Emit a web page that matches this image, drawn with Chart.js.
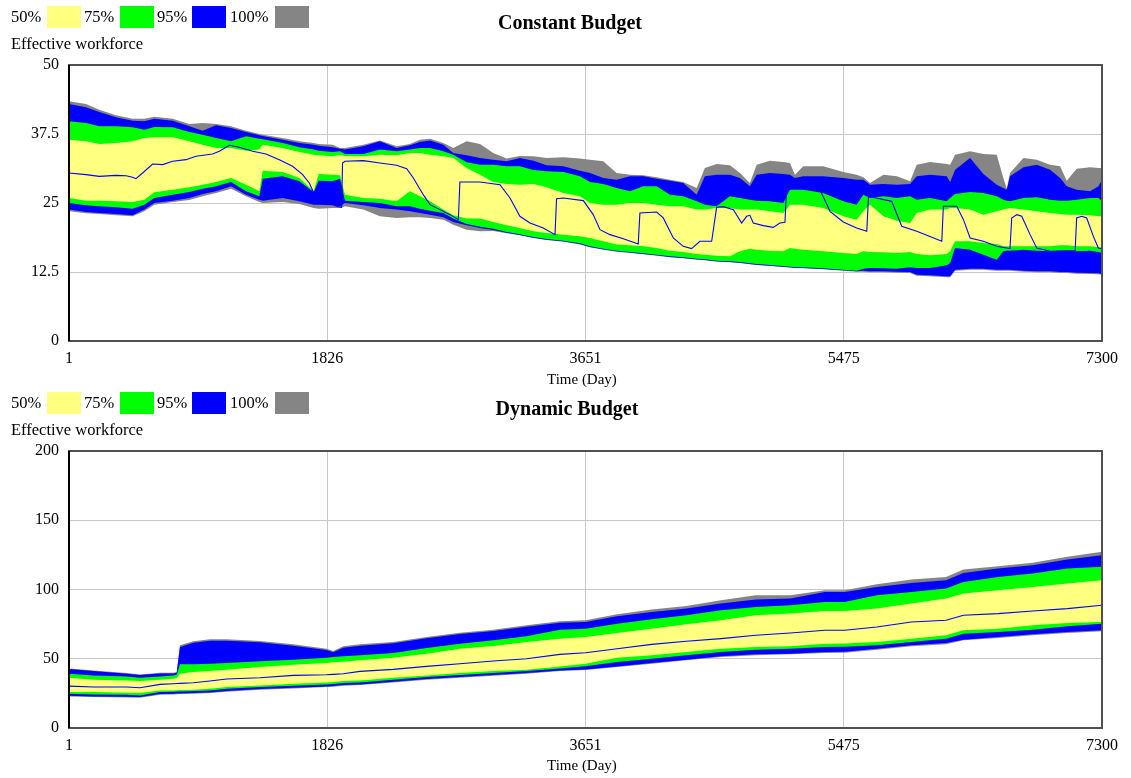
<!DOCTYPE html>
<html><head><meta charset="utf-8">
<script src="https://cdn.jsdelivr.net/npm/chart.js@4.4.1/dist/chart.umd.min.js"></script>
<style>
html,body{margin:0;padding:0;background:#fff;}
body{width:1131px;height:778px;position:relative;overflow:hidden;font-family:'Liberation Serif','Times New Roman',serif;color:#000;}
canvas{position:absolute;left:0;}
.lg{position:absolute;font-size:16.5px;line-height:20px;white-space:nowrap;}
.box{position:absolute;width:34px;height:22px;}
.title{position:absolute;font-weight:bold;font-size:20px;line-height:22px;text-align:center;width:300px;white-space:nowrap;}
.ytitle{position:absolute;font-size:16.5px;line-height:20px;white-space:nowrap;}
.xtitle{position:absolute;font-size:15px;line-height:18px;white-space:nowrap;}
</style></head><body>
<canvas id="c1" width="1131" height="389" style="top:0px"></canvas>
<canvas id="c2" width="1131" height="390" style="top:386px"></canvas>
<script>
// ---------- labels ----------
const legendLabels = ['50%','75%','95%','100%'];
const yAxisTitle = 'Effective workforce';
const xAxisTitle = 'Time (Day)';
const topTitle = 'Constant Budget';
const botTitle = 'Dynamic Budget';
const xTickValues = [1, 1826, 3651, 5475, 7300];

// ---------- Constant Budget (top) ----------
const topDays = [1,121,215,333,451,533,604,734,851,945,1040,1146,1252,1346,1370,1511,1629,1730,1765,1864,1916,1951,2081,2198,2316,2410,2481,2552,2646,2716,2811,2905,2999,3093,3187,3282,3376,3494,3611,3682,3776,3870,3965,4059,4153,4247,4341,4436,4494,4577,4671,4742,4812,4860,4954,5048,5095,5130,5189,5330,5472,5566,5614,5661,5756,5850,5944,5991,6085,6203,6227,6262,6368,6462,6556,6603,6627,6650,6745,6839,6933,7004,7051,7121,7216,7275,7300];
const topGrayHi = [43.42,42.94,41.91,40.89,40.28,40.28,40.64,40.28,39.32,39.50,39.32,38.89,38.11,37.50,37.38,36.78,36.18,35.87,35.69,35.57,34.97,34.97,35.57,36.30,35.27,35.69,36.48,36.66,35.87,34.97,36.18,35.69,34.06,33.04,33.52,33.46,33.16,33.28,33.04,32.85,32.55,30.44,30.14,30.02,29.65,29.23,28.81,27.72,31.34,32.07,31.83,30.44,28.63,31.95,32.67,32.43,32.25,30.14,31.65,31.65,30.62,30.14,29.65,28.63,30.14,29.83,28.93,31.95,32.43,32.07,31.95,33.76,34.36,33.88,33.76,29.53,27.60,30.44,33.16,32.85,31.95,31.65,29.05,31.22,31.46,31.34,31.34];
const topBlueHi = [42.94,42.34,41.49,40.52,39.92,39.80,40.28,39.92,38.89,38.11,39.07,38.59,37.87,37.26,37.14,36.48,35.87,35.57,35.39,35.09,34.85,34.67,35.27,36.18,34.97,35.45,36.05,36.30,35.57,34.06,33.64,33.16,32.85,32.55,33.16,32.67,31.83,31.65,30.86,30.44,29.53,29.23,29.83,29.83,29.41,29.05,28.63,26.51,29.83,30.14,30.14,29.53,28.02,30.14,30.44,30.26,30.14,29.53,29.83,29.83,29.53,29.23,29.23,28.32,28.45,28.32,28.45,29.83,30.14,29.83,28.81,31.04,33.16,30.26,28.32,27.72,27.42,29.83,31.46,31.95,31.04,29.53,28.02,27.42,27.12,28.02,29.23];
const topGreenHi = [39.80,39.50,38.89,38.89,38.71,38.29,38.77,38.71,37.87,37.38,36.78,36.18,37.08,36.66,36.54,35.87,35.09,34.67,34.48,34.24,34.36,33.88,33.88,34.67,34.36,34.67,34.97,34.97,34.36,33.76,32.37,31.95,31.95,31.65,31.65,30.98,30.74,30.62,29.83,28.81,28.45,27.72,27.12,28.02,28.02,26.51,26.21,25.30,24.70,24.40,26.21,25.91,25.61,25.43,25.30,25.00,27.42,27.42,27.42,26.81,25.30,24.70,26.51,25.91,26.21,25.91,26.21,25.61,25.91,25.30,25.91,26.63,26.99,26.81,26.21,25.61,25.43,25.30,25.91,26.03,25.61,25.43,25.43,25.61,25.91,25.91,25.30];
const topYellowHi = [36.48,36.18,35.69,35.87,36.18,36.78,36.90,36.90,36.18,35.57,34.97,34.97,34.48,34.67,35.57,34.97,34.24,33.76,33.64,33.46,33.76,33.46,33.46,33.76,33.64,34.06,34.06,33.76,33.46,33.16,31.34,30.14,28.81,28.45,28.32,28.45,27.84,26.81,26.21,25.00,24.70,24.70,25.00,25.00,24.70,24.40,24.40,23.80,23.80,24.10,24.10,23.80,23.80,23.80,23.49,23.19,24.70,24.70,24.70,24.10,22.59,21.98,23.49,24.70,22.59,21.80,21.38,23.19,23.80,23.80,24.10,24.10,23.80,22.89,23.49,23.80,23.98,24.10,23.80,23.49,23.19,23.01,22.89,22.89,22.77,22.59,22.59];
const topYellowLo = [25.91,25.43,25.43,25.30,25.18,25.61,26.93,27.42,27.84,28.32,28.81,29.53,28.32,27.12,30.86,30.62,29.53,27.12,30.26,30.14,30.01,26.51,25.91,25.79,25.30,27.12,26.21,25.30,23.80,22.77,22.17,22.17,21.56,20.96,20.47,19.87,19.57,19.27,18.96,18.66,18.06,17.46,17.33,17.15,16.85,16.37,16.13,15.76,15.64,15.46,15.34,16.25,16.73,16.55,16.37,16.25,16.85,16.73,16.55,16.25,15.94,15.76,16.25,16.13,16.07,15.94,16.13,15.76,15.52,15.76,16.25,18.06,18.06,17.76,17.58,17.15,17.15,17.15,17.15,17.15,17.15,17.33,17.33,17.15,17.15,16.97,16.85];
const topGreenLo = [25.00,24.58,24.40,24.22,23.98,24.70,25.91,26.51,26.99,27.60,28.02,28.81,27.12,26.21,29.41,29.83,28.93,26.99,29.05,28.93,29.41,25.43,25.18,25.00,24.40,24.40,23.98,23.61,23.19,22.17,21.20,20.72,20.35,19.75,19.33,18.84,18.48,18.18,17.70,17.15,16.73,16.37,16.13,15.88,15.64,15.34,15.16,14.92,14.80,14.56,14.44,14.31,14.07,13.95,13.77,13.59,13.47,13.41,13.35,13.17,12.93,12.74,13.11,13.23,13.17,13.11,13.35,13.23,13.23,13.71,14.13,16.85,16.55,15.64,14.74,16.25,16.37,16.37,16.55,16.37,16.25,16.37,16.37,16.25,16.37,16.13,15.94];
const topBlueLo = [23.80,23.37,23.19,23.01,22.77,23.80,25.00,25.43,25.91,26.63,27.12,28.02,26.51,25.61,25.43,25.91,25.30,24.70,24.70,24.58,24.40,25.00,24.58,24.10,23.80,23.49,23.19,22.89,22.41,21.56,20.96,20.47,20.11,19.63,19.21,18.72,18.36,18.06,17.58,17.03,16.61,16.25,16.01,15.76,15.52,15.22,15.04,14.80,14.68,14.44,14.31,14.19,13.95,13.83,13.65,13.47,13.35,13.29,13.23,13.05,12.81,12.62,12.74,12.62,12.62,12.56,12.50,12.02,11.90,11.72,11.72,12.93,13.11,13.11,12.93,12.93,12.93,12.93,12.74,12.62,12.62,12.50,12.50,12.38,12.32,12.26,12.14];
const topGrayLo = [23.49,23.13,23.01,22.77,22.59,23.49,24.70,25.18,25.55,26.21,26.81,27.60,26.21,25.18,25.00,25.18,24.82,24.10,23.98,24.10,24.10,24.40,23.80,22.59,22.29,22.41,22.41,22.29,21.98,21.08,20.17,19.87,19.93,19.51,19.15,18.66,18.30,18.00,17.46,16.97,16.55,16.19,15.94,15.70,15.46,15.16,14.98,14.74,14.62,14.37,14.25,14.13,13.89,13.77,13.59,13.41,13.29,13.23,13.17,12.99,12.74,12.56,12.56,12.44,12.44,12.38,12.32,11.84,11.72,11.54,11.54,12.74,12.93,12.93,12.74,12.74,12.74,12.74,12.56,12.44,12.44,12.32,12.32,12.20,12.14,12.08,12.02];
const topLineDays = [1,121,215,333,404,451,474,521,592,663,733,828,898,1016,1063,1134,1204,1299,1393,1487,1581,1652,1699,1734,1770,1840,1892,1927,1934,1951,2081,2198,2316,2387,2434,2504,2552,2622,2693,2752,2763,2905,3046,3117,3187,3258,3352,3435,3446,3494,3635,3705,3753,3823,3918,4023,4035,4153,4200,4271,4341,4400,4459,4542,4577,4624,4695,4754,4789,4812,4836,4907,4977,5024,5060,5071,5307,5378,5472,5566,5638,5650,5814,5885,5991,6168,6179,6274,6321,6368,6462,6556,6650,6662,6698,6733,6792,6839,6933,7110,7121,7157,7192,7239,7274,7300];
const topLineVals = [30.44,30.14,29.83,30.01,29.95,29.65,29.41,30.44,32.07,31.95,32.55,32.85,33.46,33.88,34.36,35.45,35.09,34.36,33.88,32.85,31.65,30.14,28.63,26.63,25.91,25.0,24.4,24.22,32.25,32.55,32.67,32.25,31.83,31.22,29.53,26.51,24.70,23.80,22.89,21.98,28.81,28.81,28.32,25.91,22.59,21.38,20.47,19.27,25.79,25.91,25.43,22.89,20.17,19.27,18.54,17.58,23.19,23.37,22.29,18.66,17.15,16.73,18.06,18.06,24.22,24.34,23.80,21.38,22.59,22.77,21.38,20.90,20.59,21.38,21.50,27.72,27.42,23.49,21.56,20.47,19.87,26.21,25.30,20.78,19.87,18.06,24.40,24.40,21.98,18.66,18.06,17.15,16.73,22.29,22.89,22.59,19.27,16.85,16.25,16.37,22.29,22.59,22.29,18.96,16.85,16.73];
const topYTicks = {min: 0, max: 50, step: 12.5};

// ---------- Dynamic Budget (bottom) ----------
const botDays = [1,173,408,503,644,738,762,785,879,997,1115,1350,1586,1821,1868,1939,2057,2292,2528,2763,2999,3234,3470,3651,3874,4118,4363,4608,4853,5098,5342,5482,5709,5953,6198,6321,6565,6810,7055,7300];
const botGrayHi = [43.05,41.60,39.67,38.71,39.91,39.91,40.40,59.69,62.58,64.03,64.03,62.82,60.41,57.27,55.59,58.96,60.41,62.10,65.71,68.85,71.01,74.15,77.04,77.77,82.11,85.48,88.13,92.23,95.85,95.85,99.47,99.47,103.81,107.18,109.11,114.41,116.82,119.23,123.57,127.19];
const botBlueHi = [42.57,41.12,39.19,38.23,39.43,39.43,39.91,58.48,61.61,63.06,63.06,61.85,59.45,56.31,54.62,58.00,59.45,61.13,64.75,67.88,70.05,73.19,76.08,76.56,80.66,83.79,86.20,89.82,92.71,93.43,98.26,98.26,101.88,104.77,106.70,112.00,115.14,117.55,121.65,124.78];
const botGreenHi = [39.19,37.98,37.26,36.30,37.26,37.98,38.47,45.94,45.94,46.42,46.91,48.11,49.32,50.76,51.24,51.72,52.45,54.14,57.76,60.89,63.30,66.19,71.01,71.74,75.36,78.49,81.39,85.00,87.41,88.61,91.02,91.02,95.85,98.26,100.67,105.49,109.11,111.52,115.14,116.34];
const botYellowHi = [36.30,34.85,34.37,33.89,34.85,35.57,36.06,39.19,40.40,41.12,42.08,44.01,45.70,46.91,47.39,47.87,48.83,50.76,53.66,57.27,59.20,62.10,64.51,65.71,68.60,71.74,74.87,77.77,81.39,82.59,84.52,84.52,86.20,89.82,93.43,97.05,99.47,101.88,104.29,106.70];
const botYellowLo = [25.94,25.94,25.45,25.21,27.14,27.14,27.26,27.38,27.62,28.35,29.55,30.75,31.96,32.92,33.16,33.89,34.37,36.30,37.98,39.67,41.12,42.08,44.49,46.40,50.76,52.45,54.86,57.27,58.48,58.96,60.89,61.00,62.10,64.51,66.92,70.53,71.74,74.15,75.84,76.56];
const botGreenLo = [24.73,24.25,24.01,23.52,25.94,26.18,26.30,26.42,26.66,27.14,28.35,29.55,30.51,31.48,31.72,32.44,32.92,34.85,36.78,38.23,39.67,41.12,43.05,44.50,47.63,50.04,52.45,54.86,56.55,57.27,58.48,58.60,59.69,62.10,64.51,68.12,69.33,71.01,73.43,75.36];
const botBlueLo = [23.28,22.80,22.56,22.32,24.49,24.73,24.85,24.97,25.21,25.70,26.66,28.10,29.07,30.03,30.27,30.99,31.48,33.40,35.33,36.78,38.23,39.67,41.60,42.30,44.49,46.91,49.32,51.72,53.17,53.66,54.86,55.00,57.27,59.69,61.37,63.78,65.71,67.64,69.33,70.53];
const botGrayLo = [22.80,22.32,22.08,21.83,24.01,24.25,24.37,24.49,24.73,25.21,26.18,27.62,28.59,29.55,29.79,30.51,30.99,32.92,34.85,36.30,37.74,39.19,41.12,41.80,44.01,46.42,48.83,51.24,52.45,53.17,54.14,54.30,56.55,58.96,60.41,63.30,64.99,66.92,68.60,69.81];
const botLineDays = botDays;
const botLineVals = [30.27,29.55,29.55,29.07,31.48,31.96,32.08,32.20,32.68,33.89,35.33,36.30,37.98,38.47,38.71,39.19,40.88,42.32,44.49,46.42,48.35,50.04,53.17,54.38,57.27,60.41,62.58,64.51,66.92,68.60,70.53,70.53,72.94,76.56,77.77,81.39,82.59,84.52,86.20,88.61];
const botYTicks = {min: 0, max: 200, step: 50};

// ---------- styles ----------
const FONT = "'Liberation Serif','Times New Roman',serif";
const bandColors = {yellow:'#ffff80', green:'#00ff00', blue:'#0000ff', gray:'#858585'};
const legendColorList = [bandColors.yellow, bandColors.green, bandColors.blue, bandColors.gray];
const runColor = '#0000ff';

function pts(xs, ys){ return xs.map((x,i)=>({x:x, y:ys[i]})); }

function buildDatasets(days, b, lineDays, lineVals){
  const band = (hi, lo, color, order, idxLo) => ([
    {data: pts(days, hi), fill: idxLo, backgroundColor: color, borderColor:'rgba(0,0,0,0)', borderWidth:0, pointRadius:0, order: order, tension:0},
    {data: pts(days, lo), fill: false, borderColor:'rgba(0,0,0,0)', borderWidth:0, pointRadius:0, order: order, tension:0}
  ]);
  return [
    {data: pts(lineDays, lineVals), fill:false, borderColor: runColor, borderWidth:1.1, pointRadius:0, order:0, tension:0},
    ...band(b.yellowHi, b.yellowLo, bandColors.yellow, 1, 2),
    ...band(b.greenHi, b.greenLo, bandColors.green, 2, 4),
    ...band(b.blueHi, b.blueLo, bandColors.blue, 3, 6),
    ...band(b.grayHi, b.grayLo, bandColors.gray, 4, 8)
  ];
}

const framePlugin = {
  id: 'frame',
  afterDraw(chart){
    const a = chart.chartArea, c = chart.ctx;
    c.save();
    c.strokeStyle = '#505050';
    c.lineWidth = 2;
    c.strokeRect(a.left, a.top, a.right - a.left, a.bottom - a.top);
    c.strokeStyle = '#000';
    c.beginPath(); c.moveTo(a.left, a.top); c.lineTo(a.left, a.bottom); c.stroke();
    c.restore();
  }
};

function makeChart(id, datasets, yt){
  return new Chart(document.getElementById(id), {
    type: 'line',
    data: { datasets: datasets },
    plugins: [framePlugin],
    options: {
      responsive: false, animation: false, devicePixelRatio: 1,
      layout: { padding: { left: 0, right: 29, top: 65, bottom: 0 } },
      plugins: { legend: {display:false}, tooltip: {enabled:false}, filler: {propagate:false} },
      scales: {
        x: {
          type: 'linear', min: 1, max: 7300, z: 1,
          afterBuildTicks: s => { s.ticks = xTickValues.map(v => ({value: v})); },
          afterFit: s => { s.height = 48; },
          grid: { color: '#c8c8c8', lineWidth: 1, drawTicks: false },
          border: { display: false },
          ticks: { autoSkip: false, maxRotation: 0, padding: 8, color: '#000', font: {family: FONT, size: 16}, callback: v => String(v) }
        },
        y: {
          min: yt.min, max: yt.max, z: 1,
          afterFit: s => { s.width = 69; },
          grid: { color: '#c8c8c8', lineWidth: 1, drawTicks: false },
          border: { display: false },
          ticks: { stepSize: yt.step, padding: 10, color: '#000', font: {family: FONT, size: 16}, callback: v => String(v) }
        }
      }
    }
  });
}

makeChart('c1', buildDatasets(topDays, {grayHi:topGrayHi, blueHi:topBlueHi, greenHi:topGreenHi, yellowHi:topYellowHi, yellowLo:topYellowLo, greenLo:topGreenLo, blueLo:topBlueLo, grayLo:topGrayLo}, topLineDays, topLineVals), topYTicks);
makeChart('c2', buildDatasets(botDays, {grayHi:botGrayHi, blueHi:botBlueHi, greenHi:botGreenHi, yellowHi:botYellowHi, yellowLo:botYellowLo, greenLo:botGreenLo, blueLo:botBlueLo, grayLo:botGrayLo}, botLineDays, botLineVals), botYTicks);

// ---------- HTML text (legend, titles, axis titles) ----------
const textLeft = [11, 84, 157, 230];
const boxLeft = [47, 120, 192, 275];
function addDiv(cls, text, left, top){
  const d = document.createElement('div'); d.className = cls; d.textContent = text;
  d.style.left = left + 'px'; d.style.top = top + 'px';
  document.body.appendChild(d); return d;
}
function addPanelText(offsetY, title, titleCenterX){
  legendLabels.forEach((t, i) => {
    addDiv('lg', t, textLeft[i], offsetY + 7);
    const b = addDiv('box', '', boxLeft[i], offsetY + 6);
    b.style.background = legendColorList[i];
  });
  addDiv('title', title, titleCenterX - 150, offsetY + 11);
  addDiv('ytitle', yAxisTitle, 11, offsetY + 34);
  addDiv('xtitle', xAxisTitle, 547, offsetY + 370);
}
addPanelText(0, topTitle, 570);
addPanelText(386, botTitle, 567);
</script>
</body></html>
